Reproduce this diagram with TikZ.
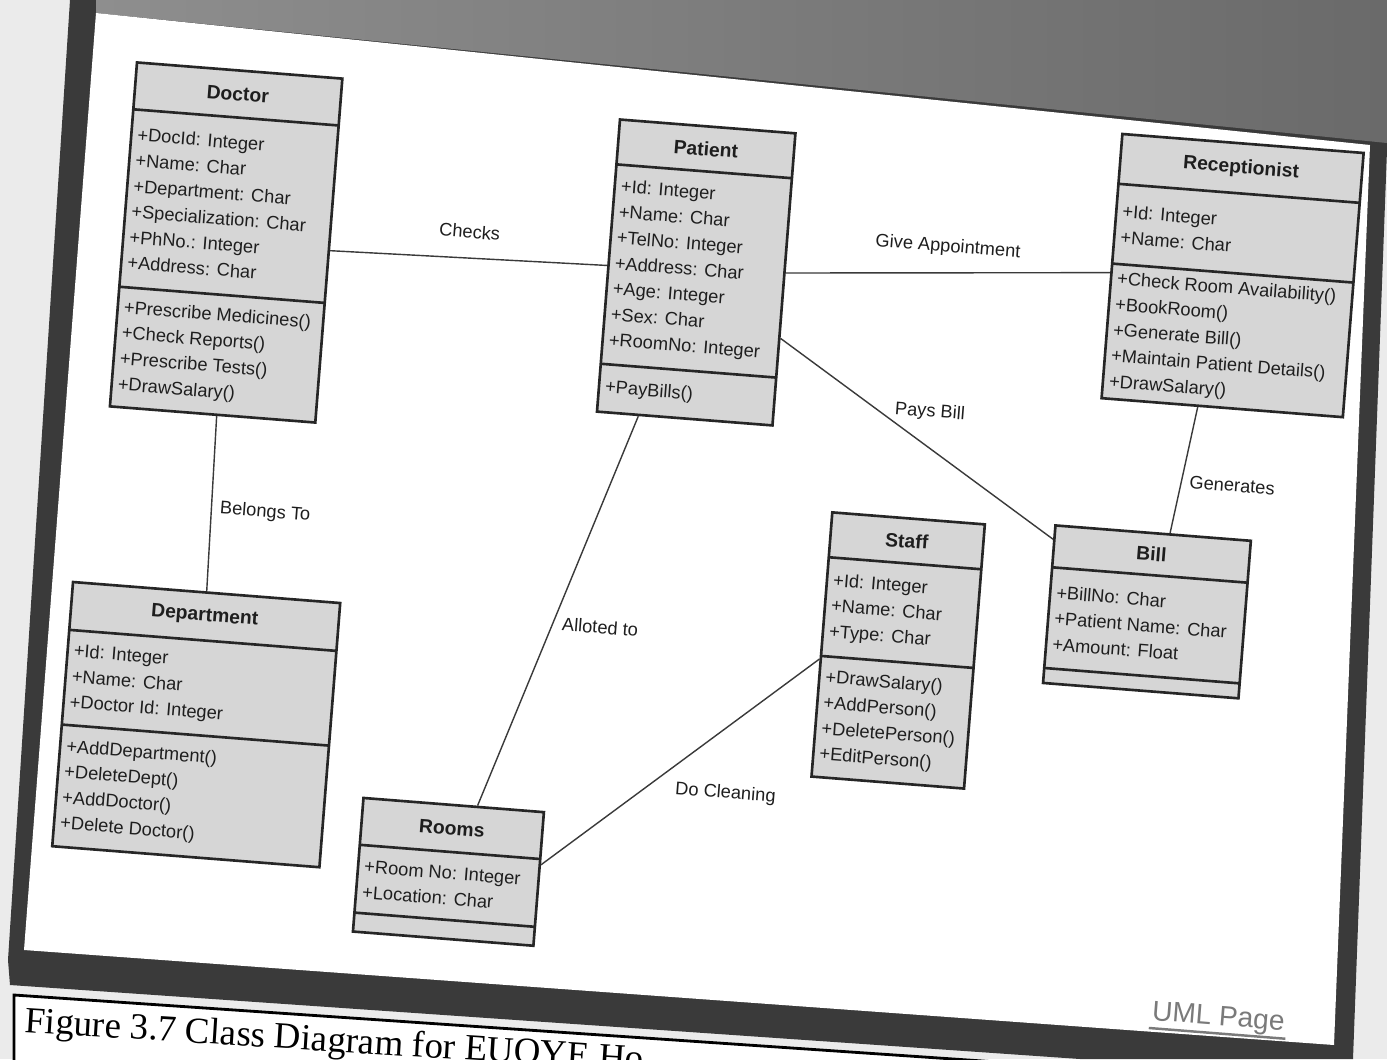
\documentclass[tikz,border=0pt]{standalone}
\usepackage{fontspec}
\newfontfamily\umlfont{Liberation Sans}
\newfontfamily\capfont{Liberation Serif}
\usetikzlibrary{calc}

\definecolor{pagebg}{HTML}{EBEBEB}
\definecolor{wallL}{HTML}{8E8E8E}
\definecolor{wallR}{HTML}{6A6A6A}
\definecolor{bezel}{HTML}{3A3A3A}
\definecolor{boxfill}{HTML}{D6D6D6}
\definecolor{boxline}{HTML}{262626}
\definecolor{wire}{HTML}{3A3A3A}
\definecolor{inktext}{HTML}{1E1E1E}
\definecolor{linkgray}{HTML}{7A7A7A}

\tikzset{
  classbox/.style={draw=boxline, fill=boxfill, line width=1.5pt, rectangle, inner sep=0pt},
  divider/.style={draw=boxline, line width=1.5pt},
  classtitle/.style={font=\umlfont\bfseries\fontsize{11}{13}\selectfont, text=inktext, inner sep=0pt},
  members/.style={anchor=west, align=left, inner sep=0pt, font=\umlfont\fontsize{10.4}{14.6}\selectfont, text=inktext},
  assoc/.style={draw=wire, line width=0.8pt},
  assoclabel/.style={font=\umlfont\fontsize{10.4}{12}\selectfont, text=inktext, inner sep=1pt},
}

% #1 name, #2 centre, #3 width, #4 height, #5 title height,
% #6 offset of the operations divider, #7 title, #8 attributes, #9 operations
\newcommand{\umlclass}[9]{%
  \begin{scope}[shift={#2}]
    \node[classbox, minimum width=#3*0.02cm, minimum height=#4*0.02cm] (#1) at (0,0) {};
    \draw[divider] ({-#3/2},{-#4/2+#5}) -- ({#3/2},{-#4/2+#5});
    \draw[divider] ({-#3/2},{-#4/2+#6}) -- ({#3/2},{-#4/2+#6});
    \node[classtitle] (#1-title) at (0,{-#4/2+#5/2}) {#7};
    \node[members] (#1-attrs) at ({-#3/2+6},{-#4/2+(#5+#6)/2}) {#8};
    \node[members] (#1-ops) at ({-#3/2+6},{#6/2}) {#9};
  \end{scope}}

\begin{document}
\begin{tikzpicture}[x=0.02cm, y=-0.02cm]
  \useasboundingbox (0,0) rectangle (1387,1059);
  \clip (0,0) rectangle (1387,1059);

  % paper and monitor frame
  \fill[pagebg] (0,0) rectangle (1387,1059);
  \fill[bezel] (70,0) -- (1387,0) -- (1387,150) -- (1353,1059) -- (1080,1059)
               -- (10,985) -- (8,960) -- cycle;
  \shade[left color=wallL, right color=wallR]
        (96,0) -- (1387,0) -- (1387,143) -- (96,13) -- cycle;
  \fill[white] (96,13) -- (1370,145) -- (1334,1045) -- (24,950) -- cycle;

  % caption box below the screen
  \fill[white] (14,995) -- (1100,1069) -- (14,1069) -- cycle;
  \draw[line width=1.6pt] (14,1069) -- (14,995) -- (1100,1069);
  \node[anchor=base west, rotate=-3.6, inner sep=0pt,
        font=\capfont\fontsize{21}{25}\selectfont] (caption) at (24,1032)
        {Figure 3.7 Class Diagram for EUOYE Ho};

  \begin{scope}[rotate around={-4.5:(693,530)}, transform shape]
    % classes
    \umlclass{doctor}{(205,280)}{206}{345}{47}{225}{Doctor}
      {+DocId: Integer\\+Name: Char\\+Department: Char\\+Specialization: Char\\+PhNo.: Integer\\+Address: Char}
      {+Prescribe Medicines()\\+Check Reports()\\+Prescribe Tests()\\+DrawSalary()}
    \umlclass{patient}{(676,273)}{176}{293}{45}{245}{Patient}
      {+Id: Integer\\+Name: Char\\+TelNo: Integer\\+Address: Char\\+Age: Integer\\+Sex: Char\\+RoomNo: Integer}
      {+PayBills()}
    \umlclass{recep}{(1211,234)}{242}{265}{50}{130}{Receptionist}
      {+Id: Integer\\+Name: Char}
      {+Check Room Availability()\\+BookRoom()\\+Generate Bill()\\+Maintain Patient Details()\\+DrawSalary()}
    \umlclass{dept}{(213,763)}{268}{265}{48}{143}{Department}
      {+Id: Integer\\+Name: Char\\+Doctor Id: Integer}
      {+AddDepartment()\\+DeleteDept()\\+AddDoctor()\\+Delete Doctor()}
    \umlclass{staff}{(907,634)}{153}{265}{45}{144}{Staff}
      {+Id: Integer\\+Name: Char\\+Type: Char}
      {+DrawSalary()\\+AddPerson()\\+DeletePerson()\\+EditPerson()}
    \umlclass{bill}{(1152,576)}{196}{158}{42}{143}{Bill}
      {+BillNo: Char\\+Patient Name: Char\\+Amount: Float}
      {}
    \umlclass{rooms}{(476,890)}{181}{134}{47}{115}{Rooms}
      {+Room No: Integer\\+Location: Char}
      {}

    % associations
    \draw[assoc] (doctor.east) -- (patient.west);
    \draw[assoc] ($(patient.north east)!0.478!(patient.south east)$)
              -- ($(recep.north west)!0.525!(recep.south west)$);
    \draw[assoc] ($(patient.north east)!0.70!(patient.south east)$)
              -- ($(bill.north west)!0.095!(bill.south west)$);
    \draw[assoc] ($(recep.south west)!0.40!(recep.south east)$)
              -- ($(bill.north west)!0.585!(bill.north east)$);
    \draw[assoc] ($(doctor.south west)!0.52!(doctor.south east)$) -- (dept.north);
    \draw[assoc] ($(patient.south west)!0.24!(patient.south east)$)
              -- ($(rooms.north west)!0.63!(rooms.north east)$);
    \draw[assoc] ($(staff.north west)!0.555!(staff.south west)$)
              -- ($(rooms.north east)!0.395!(rooms.south east)$);

    % association names
    \node[assoclabel] (lbl-checks)   at (447,250) {Checks};
    \node[assoclabel] (lbl-appoint)  at (925,228) {Give Appointment};
    \node[assoclabel] (lbl-pays)     at (920,394) {Pays Bill};
    \node[assoclabel] (lbl-gen)      at (1227,443) {Generates};
    \node[assoclabel] (lbl-belongs)  at (265,546) {Belongs To};
    \node[assoclabel] (lbl-alloted)  at (608,634) {Alloted to};
    \node[assoclabel] (lbl-cleaning) at (746,790) {Do Cleaning};

    % page link in the corner of the screen
    \node[font=\umlfont\fontsize{16}{18}\selectfont, text=linkgray, inner sep=1pt]
      (umlpage) at (1255,976) {UML Page};
    \draw[linkgray, line width=1.4pt] (umlpage.south west) -- (umlpage.south east);
  \end{scope}
\end{tikzpicture}
\end{document}
